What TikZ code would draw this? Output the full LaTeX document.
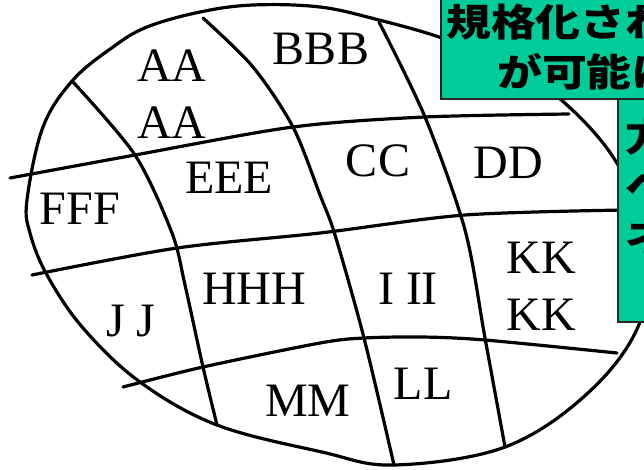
\documentclass[tikz,border=0pt]{standalone}
\usepackage{fontspec}
\setmainfont{Liberation Serif}
\newfontfamily\cjk{Noto Sans CJK JP}
\definecolor{boxgreen}{RGB}{0,204,153}
\tikzset{
  grid line/.style={line width=3.2pt, line cap=round, line join=round},
  lbl/.style={font=\fontsize{48}{57}\selectfont, inner sep=0pt, anchor=north, align=center},
  callout/.style={fill=boxgreen, draw=black!85, line width=2pt},
  jtext/.style={font=\cjk\bfseries\fontsize{38}{38}\selectfont, inner sep=0pt, anchor=base west, xscale=1.18}
}
\begin{document}
\begin{tikzpicture}[x=1pt, y=-1pt]
\useasboundingbox (0,0) rectangle (644,469);
\clip (0,0) rectangle (644,469);
% outer blob
\draw[grid line] plot[smooth cycle, tension=0.6] coordinates {
  (27,200) (43,127) (73,80) (113,47) (147,27) (200,12) (253,5) (320,7)
  (379,20) (442,38) (500,62) (559,98) (615,160) (648,240) (640,322)
  (589,392) (505,447) (394,465) (322,452) (217,425) (140,382) (83,328)
  (47,275) (30,233)};
% dividing curves
\draw[grid line] plot[smooth] coordinates {(73,82) (135,155) (172,233) (185,285) (203,367) (217,425)};
\draw[grid line] plot[smooth] coordinates {(203,18) (253,67) (293,127) (320,195) (335,235) (364,338) (394,465)};
\draw[grid line] plot[smooth] coordinates {(379,22) (425,117) (465,230) (485,338) (505,447)};
\draw[grid line] plot[smooth] coordinates {(10,178) (135,155) (293,127) (425,117) (569,114)};
\draw[grid line] plot[smooth] coordinates {(32,275) (177,248) (320,233) (465,215) (625,210)};
\draw[grid line] plot[smooth] coordinates {(123,387) (203,367) (320,343) (364,338) (422,337) (485,340) (617,353)};
% labels
\node[lbl] (aa) at (172,50) {AA\\AA};
\node[lbl] (bbb) at (321,33) {BBB};
\node[lbl] (eee) at (229,162) {EEE};
\node[lbl] (fff) at (80,193) {FFF};
\node[lbl] (cc) at (378,145) {CC};
\node[lbl] (dd) at (508,147) {DD};
\node[lbl] (hhh) at (254,273) {HHH};
\node[lbl] (jj) at (131,305) {J J};
\node[lbl] (iii) at (408,273) {I II};
\node[lbl] (kk) at (541,242) {KK\\KK};
\node[lbl] (mm) at (308,385) {MM};
\node[lbl] (ll) at (423,368) {LL};
% callout boxes
\draw[callout] (618,99) rectangle (670,322);
\draw[callout] (441,-10) rectangle (670,99);
\node[jtext] (t1a) at (446,36) {規格化され};
\node[jtext] (t1b) at (497,86) {が可能に};
\node[jtext] (t2a) at (625,151) {方};
\node[jtext] (t2b) at (625,200) {へ};
\node[jtext] (t2c) at (625,250) {ネ};
\end{tikzpicture}
\end{document}
